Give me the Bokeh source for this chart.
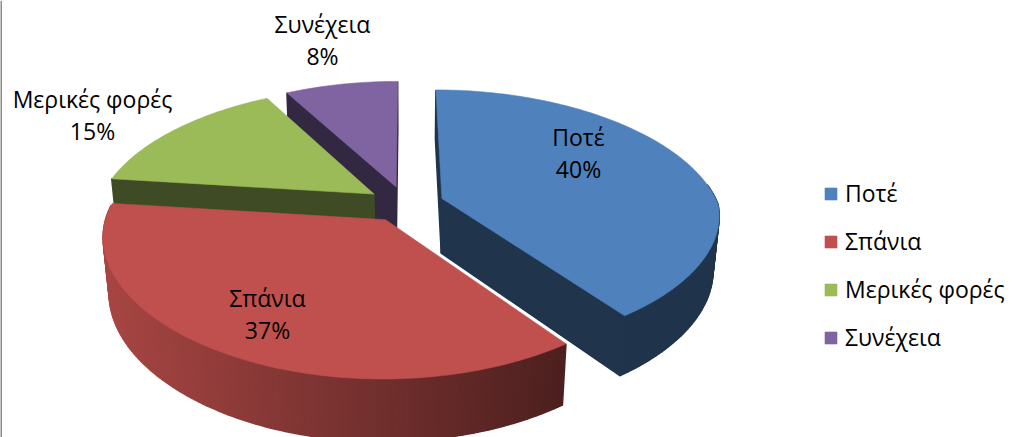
import numpy as np
from bokeh.plotting import figure
from bokeh.models import ColumnDataSource, Legend, LegendItem, Span
from bokeh.core.properties import value
from bokeh.embed import file_html
from bokeh.resources import INLINE

# ---- data ----
categories = ["Ποτέ", "Σπάνια", "Μερικές φορές", "Συνέχεια"]
percent = [40, 37, 15, 8]
colors = ["#4F81BD", "#C0504D", "#9BBB59", "#8064A2"]

# ---- layout of the 3D projection (pixels) ----
W, H = 1014, 437
FONT = "Open Sans"
FS = "23px"
CX, CY = 405.0, 203.5
RX, RY = 276.0, 127.8
PERSP_Y = 0.162
PERSP_X_NEAR = 0.12
PERSP_X_FAR = 0.20
EXPLODE = 0.14
DEPTH = 56.0
SHRINK = 0.02
LABEL_CENTRES = [(578, 152), (267, 313), (92, 114), (322, 39)]
LINE_GAP = 16


def project(X, N, bottom=False):
    s = SHRINK if bottom else 0
    px = PERSP_X_NEAR if N > 0 else PERSP_X_FAR
    return (CX + RX * X / (1 - px * N + s),
            CY + (RY * N + (DEPTH if bottom else 0)) / (1 - PERSP_Y * N + s))


def shade(hexcol, k):
    c = [int(hexcol[i:i + 2], 16) for i in (1, 3, 5)]
    return "#%02x%02x%02x" % tuple(int(round(v * k)) for v in c)


def wall_shade(x):
    return float(np.clip(0.87 - (x - 107) / (560 - 107) * 0.47, 0.40, 0.87))


p = figure(width=W, height=H, x_range=(0, W), y_range=(H, 0), output_backend="svg",
           toolbar_location=None, x_axis_location=None, y_axis_location=None,
           min_border=0, outline_line_color=None)
p.grid.visible = False

edges = np.cumsum([0] + percent) / sum(percent) * 2 * np.pi
slices = []
for i, col in enumerate(colors):
    a0, a1 = edges[i], edges[i + 1]
    mid = (a0 + a1) / 2
    ex, en = EXPLODE * np.sin(mid), -EXPLODE * np.cos(mid)
    ang = np.linspace(a0, a1, max(int(np.degrees(a1 - a0)), 8))
    X = ex + np.sin(ang)
    N = en - np.cos(ang)
    slices.append(dict(col=col, ex=ex, en=en, X=X, N=N, a0=a0, a1=a1, ang=ang))


def face(s, j):
    tx = [project(s["ex"], s["en"]), project(s["X"][j], s["N"][j]),
          project(s["X"][j], s["N"][j], True), project(s["ex"], s["en"], True)]
    return [q[0] for q in tx], [q[1] for q in tx]


# back to front: Συνέχεια, Μερικές φορές, Ποτέ, Σπάνια
tops = {}
for i in (3, 2, 0, 1):
    s = slices[i]
    X, N, ex, en, col, ang = s["X"], s["N"], s["ex"], s["en"], s["col"], s["ang"]
    front_start = -np.sin(s["a0"]) > -1e-6
    front_end = np.sin(s["a1"]) > -1e-6
    xs, ys, fills = [], [], []
    # curved outer wall, strip by strip; only the part that faces the viewer
    for j in range(len(X) - 1):
        if -np.cos(ang[j]) < -0.1 and -np.cos(ang[j + 1]) < -0.1:
            continue
        tx = [project(X[j], N[j]), project(X[j + 1], N[j + 1]),
              project(X[j + 1], N[j + 1], True), project(X[j], N[j], True)]
        xm = sum(q[0] for q in tx) / 4
        xs.append([q[0] for q in tx])
        ys.append([q[1] for q in tx])
        fills.append(shade(col, wall_shade(xm)))
    # flat cut faces that look towards the viewer go over the wall
    for j, visible in ((0, front_start), (-1, front_end)):
        if visible:
            fx, fy = face(s, j)
            xs.append(fx)
            ys.append(fy)
            fills.append(shade(col, 0.40))
    p.patches("x", "y", source=ColumnDataSource(dict(x=xs, y=ys, c=fills)),
              fill_color="c", line_color="c", line_width=1.5)
    top = [project(ex, en)] + [project(a, b) for a, b in zip(X, N)]
    tops[i] = p.patch([q[0] for q in top], [q[1] for q in top],
                      fill_color=col, line_color=col, line_width=0.6)

# data labels
lx, ly, lt = [], [], []
for (cx, cy), name, v in zip(LABEL_CENTRES, categories, percent):
    lx += [cx, cx]
    ly += [cy - LINE_GAP, cy + LINE_GAP]
    lt += [name, f"{v}%"]
p.text(lx, ly, text=lt, text_align="center", text_baseline="middle",
       text_font=value(FONT), text_font_size=value(FS), text_color="#000000")

legend = Legend(items=[LegendItem(label=c, renderers=[tops[i]]) for i, c in enumerate(categories)],
                location=(823, 84), orientation="vertical", glyph_width=15, glyph_height=15,
                label_standoff=7, spacing=16, margin=0, padding=0, border_line_color=None,
                background_fill_alpha=0, label_text_font=FONT, label_text_font_size=FS,
                label_height=15, label_text_baseline="middle", label_text_color="#000000")
p.add_layout(legend)

p.add_layout(Span(location=0.5, dimension="height", line_color="#8C8C8C", line_width=2))

open("out.html", "w").write(file_html(p, INLINE))
